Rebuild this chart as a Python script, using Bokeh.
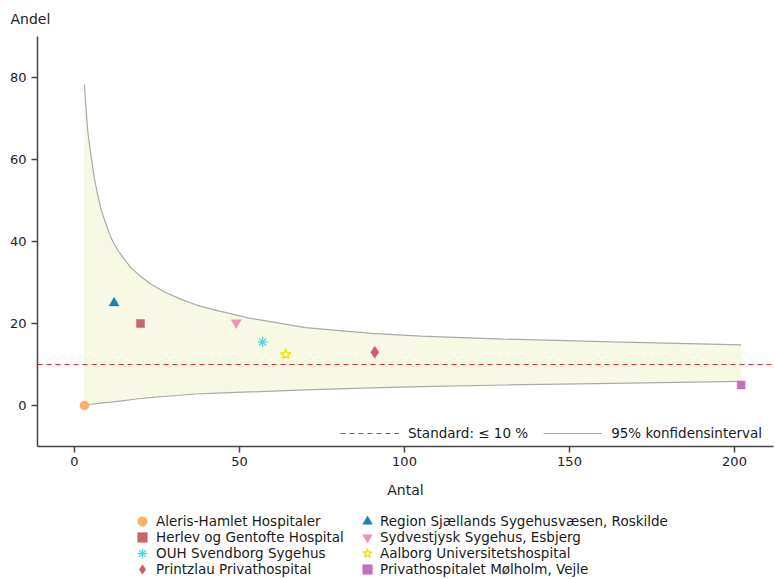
from bokeh.plotting import figure
from bokeh.models import Range1d, Legend, LegendItem, Label, FixedTicker
from bokeh.embed import file_html
from bokeh.resources import INLINE

# Hospitals: number of cases (Antal) and share in percent (Andel)
hospitals = [
    "Aleris-Hamlet Hospitaler",
    "Herlev og Gentofte Hospital",
    "OUH Svendborg Sygehus",
    "Printzlau Privathospital",
    "Region Sjællands Sygehusvæsen, Roskilde",
    "Sydvestjysk Sygehus, Esbjerg",
    "Aalborg Universitetshospital",
    "Privathospitalet Mølholm, Vejle",
]
antal = [3, 20, 57, 91, 12, 49, 64, 202]
andel = [0.0, 20.0, 15.5, 13.0, 25.0, 20.2, 12.5, 5.0]

markers = ["circle", "square", "asterisk", "diamond", "triangle", "inverted_triangle", "star", "square"]
sizes = [9, 8, 10, 12, 10, 10, 11, 8]
colors = ["#fbb06a", "#c9646c", "#4fd8d8", "#c8606a", "#1f7fb4", "#f58fb5", "#f2e200", "#c071c0"]

# 95% confidence limits around the 10 % standard
ci_n = [3, 4, 5, 6, 7, 8, 9, 11, 13, 15, 17, 20, 23, 27, 32, 37, 43, 53, 70, 90, 105, 130, 163, 202]
ci_upper = [78.3, 67.0, 61.0, 55.5, 51.5, 48.0, 45.5, 41.0, 38.0, 35.8, 33.7, 31.5, 29.7, 27.8,
            26.0, 24.5, 23.2, 21.3, 19.0, 17.6, 16.9, 16.2, 15.5, 14.8]
ci_lower = [0.0, 0.1, 0.3, 0.4, 0.5, 0.6, 0.7, 0.8, 1.0, 1.2, 1.4, 1.7, 1.9, 2.2,
            2.5, 2.8, 3.0, 3.3, 3.8, 4.3, 4.6, 5.0, 5.4, 5.9]

standard = 10

x_ticks = [0, 50, 100, 150, 200]
y_ticks = [0, 20, 40, 60, 80]
x_bounds = (-11.2, 211.8)
y_bounds = (-10, 90)

FONT = "DejaVu Sans"
FS = "14px"
LEG_FS = "13.5px"
TICK_FS = "13px"

p = figure(
    width=775, height=579,
    x_range=Range1d(-22.42, 212.42), y_range=Range1d(-42.44, 98.78),
    output_backend="svg", toolbar_location=None,
)
p.min_border = 0
p.title.text = ""
p.outline_line_color = None
p.xgrid.visible = False
p.ygrid.visible = False
p.background_fill_color = "white"

for ax in (p.xaxis[0], p.yaxis[0]):
    ax.axis_line_color = "#444444"
    ax.axis_line_width = 1.5
    ax.major_tick_line_color = "#444444"
    ax.major_tick_line_width = 1.5
    ax.major_tick_out = 6
    ax.major_tick_in = 0
    ax.minor_tick_line_color = None
    ax.major_label_text_font = FONT
    ax.major_label_text_font_size = TICK_FS
    ax.major_label_text_color = "#222222"

p.xaxis.fixed_location = y_bounds[0]
p.yaxis.fixed_location = x_bounds[0]
p.xaxis.bounds = x_bounds
p.yaxis.bounds = y_bounds
p.xaxis.ticker = FixedTicker(ticks=x_ticks)
p.yaxis.ticker = FixedTicker(ticks=y_ticks)
p.xaxis.axis_label = "Antal"
p.xaxis.axis_label_text_font = FONT
p.xaxis.axis_label_text_font_size = FS
p.xaxis.axis_label_text_font_style = "normal"
p.xaxis.axis_label_text_color = "#222222"
p.xaxis.axis_label_standoff = 12

# confidence band
p.varea(x=ci_n, y1=ci_lower, y2=ci_upper, fill_color="#f7f9e4")
r_ci = p.line(ci_n, ci_upper, line_color="#aaaaaa", line_width=1.2)
p.line(ci_n, ci_lower, line_color="#aaaaaa", line_width=1.2)

# standard line across the axis extent
r_std = p.line(list(x_bounds), [standard, standard],
               line_color="#ee3030", line_width=1.2, line_dash="5 4")

# hospital markers
renderers = []
for i, name in enumerate(hospitals):
    if markers[i] == "star":
        kw = dict(fill_color="white", line_color=colors[i], line_width=1.3)
    elif markers[i] == "asterisk":
        kw = dict(line_color=colors[i], line_width=1.3)
    else:
        kw = dict(fill_color=colors[i], line_color=colors[i], line_width=0.5)
    r = p.scatter([antal[i]], [andel[i]], marker=markers[i], size=sizes[i], **kw)
    renderers.append(r)

leg_top = Legend(
    items=[LegendItem(label="Standard: ≤ 10 %", renderers=[r_std]),
           LegendItem(label="95% konfidensinterval", renderers=[r_ci])],
    orientation="horizontal", location=(340, 138),
    glyph_width=59, glyph_height=16, label_height=16, label_standoff=9, spacing=15,
    padding=0, margin=0,
    label_text_font=FONT, label_text_font_size=LEG_FS, label_text_color="#1a1a1a",
    border_line_alpha=0, background_fill_alpha=0,
)
p.add_layout(leg_top)

# hospital key: two columns of four rows, one single-entry legend per row
col_x = [130, 355]
col_standoff = [2, 1]
row_bottom = [46, 30, 14, -2]
for i, name in enumerate(hospitals):
    col, row = divmod(i, 4)
    p.add_layout(Legend(
        items=[LegendItem(label=name, renderers=[renderers[i]])],
        location=(col_x[col], row_bottom[row]),
        glyph_width=24, glyph_height=24, label_height=24, label_standoff=col_standoff[col],
        spacing=0, padding=0, margin=0,
        label_text_font=FONT, label_text_font_size=LEG_FS, label_text_color="#1a1a1a",
        border_line_alpha=0, background_fill_alpha=0,
    ))

p.add_layout(Label(x=10, y=561, x_units="screen", y_units="screen", text="Andel",
                   text_baseline="middle", text_font=FONT, text_font_size=FS,
                   text_color="#222222"))

open("out.html", "w").write(file_html(p, INLINE))
